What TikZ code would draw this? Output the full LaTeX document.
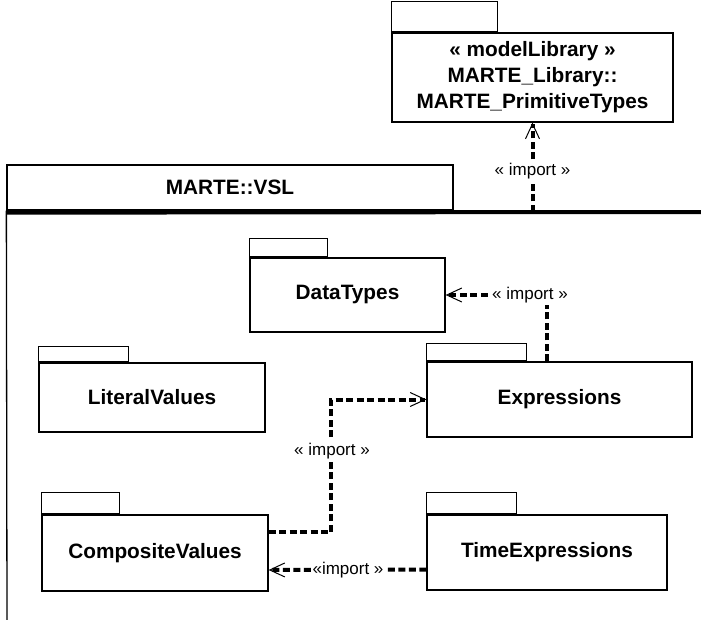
\documentclass[tikz,border=0pt]{standalone}
\usepackage{fontspec}
\setmainfont{Liberation Sans}
\usetikzlibrary{arrows.meta,calc}
\begin{document}
\begin{tikzpicture}[x=1pt,y=-1pt,
  pkg/.style={draw, line width=1.3pt, inner sep=0pt, font=\bfseries\fontsize{20.8}{26}\selectfont, align=center},
  pkgtab/.style={draw, line width=1.1pt, inner sep=0pt, anchor=south west},
  dep/.style={line width=4pt, dash pattern=on 7pt off 3.5pt},
  deparrow/.style={dep, -{Straight Barb[length=15pt,width=14pt,line width=1pt]}},
  lbl/.style={fill=white, inner sep=2pt, font=\fontsize{17}{20}\selectfont}]
\useasboundingbox (0,0) rectangle (701,620);

% MARTE::VSL big package
\node[pkg, minimum width=446pt, minimum height=45pt] (vsltab) at (230,187.5) {MARTE::VSL};
\coordinate (vslbl) at (7,625);
\coordinate (vslright) at (705,212);
\draw[line width=1.3pt] (vsltab.south west) -- (vslbl);
\draw[line width=4pt] ([yshift=-2pt]vsltab.south west) -- (vslright);

% MARTE_PrimitiveTypes
\node[pkg, minimum width=281pt, minimum height=89pt] (prim) at (532.5,77.5)
  {« modelLibrary »\\MARTE\_Library::\\MARTE\_PrimitiveTypes};
\node[pkgtab, minimum width=106pt, minimum height=30pt] (primtab) at (prim.north west) {};

% DataTypes
\node[pkg, minimum width=195pt, minimum height=74pt] (dt) at (347.5,295) {DataTypes};
\node[pkgtab, minimum width=78pt, minimum height=18pt] (dttab) at (dt.north west) {};

% Expressions
\node[pkg, minimum width=265pt, minimum height=75pt] (exp) at (559.5,399.5) {Expressions};
\node[pkgtab, minimum width=100pt, minimum height=17pt] (exptab) at (exp.north west) {};

% LiteralValues
\node[pkg, minimum width=226pt, minimum height=69pt] (lit) at (152,397.5) {LiteralValues};
\node[pkgtab, minimum width=90pt, minimum height=15pt] (littab) at (lit.north west) {};

% CompositeValues
\node[pkg, minimum width=226pt, minimum height=76pt] (comp) at (155,553) {CompositeValues};
\node[pkgtab, minimum width=78pt, minimum height=21pt] (comptab) at (comp.north west) {};

% TimeExpressions
\node[pkg, minimum width=240pt, minimum height=75pt] (te) at (547,552.5) {TimeExpressions};
\node[pkgtab, minimum width=90pt, minimum height=21pt] (tetab) at (te.north west) {};

% VSL -> PrimitiveTypes
\coordinate (vslimp) at (532.5,212);
\draw[deparrow] (vslimp) -- (prim.south);
\node[lbl] (l1) at (532.5,171) {« import »};

% Expressions -> DataTypes
\draw[deparrow] ($(exp.north west)+(121,0)$) |- (dt.east);
\node[lbl] (l2) at (530,295) {« import »};

% CompositeValues -> Expressions
\draw[deparrow] ([yshift=21pt]comp.east) -| ([xshift=-95pt]exp.west) -- (exp.west);
\node[lbl] (l3) at (332,451) {« import »};

% TimeExpressions -> CompositeValues
\draw[deparrow] ([yshift=-17pt]te.west) -- ([yshift=-17pt]comp.east);
\node[lbl] (l4) at (348,570) {«import »};
\end{tikzpicture}
\end{document}
